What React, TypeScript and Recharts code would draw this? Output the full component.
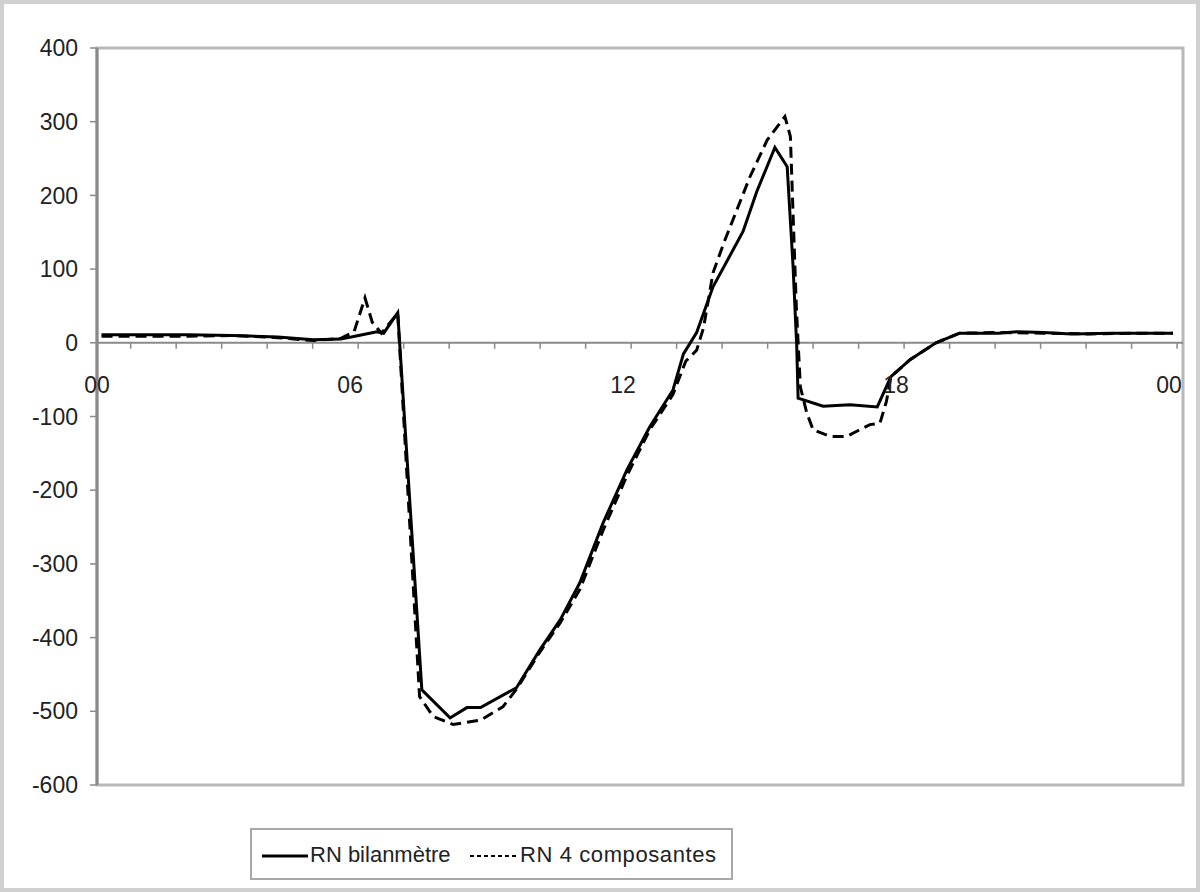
import React from 'react';
import { LineChart, Line, XAxis, YAxis, ReferenceLine, ReferenceArea } from 'recharts';

// ---- data ----
const solidHours = [0.36, 1.26, 2.25, 3.24, 4.23, 5.02, 5.62, 6.01, 6.41, 6.56, 6.87, 7.4, 8.02, 8.39, 8.69, 9.48, 9.99, 10.44, 10.87, 11.38, 11.91, 12.41, 12.92, 13.15, 13.44, 13.8, 14.46, 14.76, 15.16, 15.43, 15.56, 15.64, 15.67, 16.22, 16.81, 17.41, 17.71, 18.13, 18.7, 19.22, 20.08, 20.48, 21.07, 21.67, 22.56, 23.06, 23.91];
const solidValues = [11, 11, 11, 10, 8, 4, 5, 10, 15, 13, 41, -471, -509, -495, -495, -468, -417, -376, -326, -245, -172, -114, -64, -15, 14, 76, 151, 205, 265, 239, 103, -5, -75, -86, -84, -87, -46, -23, 0, 13, 13, 15, 14, 12, 13, 13, 13];

const dashedHours = [0.36, 1.26, 2.25, 3.24, 4.23, 5.02, 5.62, 5.91, 6.15, 6.31, 6.51, 6.87, 7.35, 7.65, 8.09, 8.69, 9.18, 9.48, 9.99, 10.44, 10.87, 11.38, 11.91, 12.41, 12.92, 13.2, 13.44, 13.59, 13.8, 14.04, 14.61, 14.99, 15.38, 15.5, 15.63, 15.72, 15.86, 16.0, 16.37, 16.74, 16.96, 17.25, 17.47, 17.61, 17.71, 18.13, 18.7, 19.22, 20.08, 21.07, 22.07, 23.06, 23.91];
const dashedValues = [9, 9, 9, 10, 7, 3, 6, 15, 61, 28, 13, 40, -480, -507, -518, -512, -494, -470, -420, -380, -335, -255, -180, -118, -70, -25, -10, 20, 95, 136, 225, 275, 307, 280, 50, -60, -95, -118, -127, -127, -120, -111, -109, -80, -46, -23, 0, 13, 14, 13, 12, 13, 13];

const X_START = 0.26;
const X_END = 24.13;
const hourTicks = [X_START, ...Array.from({ length: 24 }, (_, i) => i + 1)];
const hourLabels: Record<number, string> = { 6: '06', 12: '12', 18: '18', 24: '00' };
const startLabel = '00';
const valueTicks = [-600, -500, -400, -300, -200, -100, 0, 100, 200, 300, 400];
const seriesNames = ['RN bilanmètre', 'RN 4 composantes'];

const solidData = solidHours.map((h, i) => ({ h, v: solidValues[i] }));
const dashedData = dashedHours.map((h, i) => ({ h, v: dashedValues[i] }));

// ---- layout ----
const W = 1200;
const H = 892;
const X_AXIS_H = 10;
const MARGIN = { top: 48, right: 17, bottom: 107 - X_AXIS_H, left: 0 };
const Y_DOMAIN: [number, number] = [-600, 400];
const PLOT_H = H - MARGIN.top - MARGIN.bottom - X_AXIS_H;
const ZERO_FROM_BOTTOM = (PLOT_H * (0 - Y_DOMAIN[0])) / (Y_DOMAIN[1] - Y_DOMAIN[0]);
const FONT = '"Liberation Sans", Arial, sans-serif';

const HourTick = (props: any) => {
  const { x, y, payload } = props;
  const zy = y - ZERO_FROM_BOTTOM;
  const isStart = payload.value === X_START;
  const label = isStart ? startLabel : hourLabels[payload.value];
  return (
    <g>
      {!isStart && <line x1={x} x2={x} y1={zy} y2={zy + 6} stroke="#8a8a8a" strokeWidth={1.5} />}
      {label !== undefined && (
        <text x={isStart ? x : x - 8} y={zy + 50} textAnchor="middle" fontSize={23} fontFamily={FONT} fill="#222">
          {label}
        </text>
      )}
    </g>
  );
};

const LegendBox = () => (
  <div
    style={{
      position: 'absolute',
      left: 250,
      top: 828,
      width: 483,
      height: 52,
      boxSizing: 'border-box',
      border: '2px solid #a8a8a8',
      background: '#fff',
      fontFamily: FONT,
      fontSize: 22,
      color: '#222',
    }}
  >
    <svg width={50} height={10} style={{ position: 'absolute', left: 8, top: 21 }}>
      <line x1={2} x2={48} y1={5} y2={5} stroke="#000" strokeWidth={3} />
    </svg>
    <span style={{ position: 'absolute', left: 58, top: 12, whiteSpace: 'nowrap' }}>{seriesNames[0]}</span>
    <svg width={52} height={10} style={{ position: 'absolute', left: 216, top: 21 }}>
      <line x1={2} x2={50} y1={5} y2={5} stroke="#000" strokeWidth={2} strokeDasharray="4 3" />
    </svg>
    <span style={{ position: 'absolute', left: 268, top: 12, whiteSpace: 'nowrap', letterSpacing: 0.6 }}>{seriesNames[1]}</span>
  </div>
);

export default function App() {
  return (
    <div style={{ position: 'absolute', left: 0, top: 0, width: W, height: H, background: '#fff' }}>
      <div
        style={{
          position: 'absolute',
          left: 0,
          top: 0,
          width: W,
          height: H,
          boxSizing: 'border-box',
          border: '4px solid #d0d0d0',
        }}
      />
      <LineChart width={W} height={H} margin={MARGIN} style={{ position: 'absolute', left: 0, top: 0 }}>
        <ReferenceArea x1={X_START} x2={X_END} y1={-600} y2={400} fill="none" stroke="#b8b8b8" strokeWidth={3} ifOverflow="visible" />
        <XAxis
          type="number"
          dataKey="h"
          domain={[X_START, X_END]}
          ticks={hourTicks}
          interval={0}
          height={X_AXIS_H}
          tickLine={false}
          axisLine={false}
          tickSize={0}
          tickMargin={0}
          tick={<HourTick />}
          allowDataOverflow
        />
        <YAxis
          type="number"
          dataKey="v"
          domain={Y_DOMAIN}
          ticks={valueTicks}
          interval={0}
          width={97}
          tickSize={7}
          tickMargin={12}
          axisLine={{ stroke: '#8a8a8a', strokeWidth: 3 }}
          tickLine={{ stroke: '#8a8a8a', strokeWidth: 1.5 }}
          tick={{ fontSize: 23, fontFamily: FONT, fill: '#222' }}
          allowDataOverflow
        />
        <ReferenceLine y={0} stroke="#8a8a8a" strokeWidth={2} />
        <Line
          data={dashedData}
          dataKey="v"
          name={seriesNames[1]}
          type="linear"
          stroke="#000"
          strokeWidth={3}
          strokeDasharray="11 6"
          dot={false}
          isAnimationActive={false}
        />
        <Line
          data={solidData}
          dataKey="v"
          name={seriesNames[0]}
          type="linear"
          stroke="#000"
          strokeWidth={3}
          dot={false}
          isAnimationActive={false}
        />
      </LineChart>
      <LegendBox />
    </div>
  );
}
